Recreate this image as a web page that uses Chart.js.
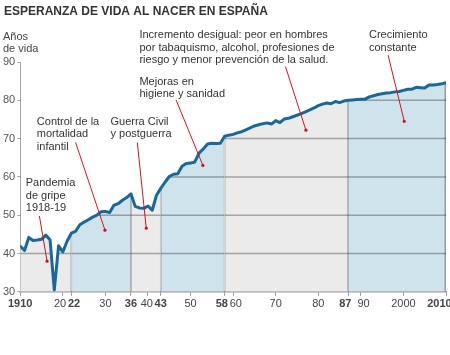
<!DOCTYPE html>
<html><head><meta charset="utf-8">
<script src="https://cdn.jsdelivr.net/npm/chart.js@4.4.0/dist/chart.umd.min.js"></script>
<style>html,body{margin:0;padding:0;background:#fff;}</style>
</head><body>
<canvas id="c" width="450" height="355"></canvas>
<script>
const years = [1910,1911,1912,1913,1914,1915,1916,1917,1918,1919,
1920,1921,1922,1923,1924,1925,1926,1927,1928,1929,
1930,1931,1932,1933,1934,1935,1936,1937,1938,1939,
1940,1941,1942,1943,1944,1945,1946,1947,1948,1949,
1950,1951,1952,1953,1954,1955,1956,1957,1958,1959,
1960,1961,1962,1963,1964,1965,1966,1967,1968,1969,
1970,1971,1972,1973,1974,1975,1976,1977,1978,1979,
1980,1981,1982,1983,1984,1985,1986,1987,1988,1989,
1990,1991,1992,1993,1994,1995,1996,1997,1998,1999,
2000,2001,2002,2003,2004,2005,2006,2007,2008,2009,2010];
const lifeExpectancy = [41.9,40.8,44.2,43.4,43.5,43.7,44.8,43.6,30.5,42.0,
40.4,43.2,45.3,45.8,47.5,48.2,48.8,49.5,50.0,50.9,
51.0,50.7,52.6,53.0,53.9,54.6,55.6,52.3,51.9,51.8,
52.4,51.3,55.2,57.0,58.6,60.1,60.7,60.8,62.8,63.5,
63.6,63.9,66.2,67.3,68.6,68.8,68.7,68.8,70.6,70.9,
71.1,71.5,71.8,72.3,72.8,73.3,73.6,73.9,74.1,73.8,
74.7,74.2,75.1,75.3,75.7,76.1,76.5,77.0,77.5,78.0,
78.6,79.0,79.3,79.1,79.7,79.4,79.8,80.0,80.1,80.2,
80.3,80.3,80.9,81.2,81.5,81.7,81.9,82.0,82.2,82.3,
82.6,82.9,82.9,83.4,83.3,83.2,84.0,84.0,84.1,84.3,84.6];
const eraStarts = [1910,1922,1936,1943,1958,1987];
const eraKinds = ['gray','blue','gray','blue','gray','blue'];
const boundaryYears = [1922,1936,1943,1958,1987,2010];
const gridValues = [40,50,60,70,80];
const xTicks = [1910,1920,1922,1930,1936,1940,1943,1950,1958,1960,1970,1980,1987,1990,2000,2010];
const xTickLabels = ['1910','20\u2002','\u200222','30','36','40\u2009','43','50','58\u2002','\u200260','70','80','87\u2002','\u200290','2000','2010\u2003\u2009'];
const boldTicks = [1910,1922,1936,1943,1958,1987,2010];
const titleText = 'ESPERANZA DE VIDA AL NACER EN ESPAÑA';
const yAxisTitle = ['Años','de vida'];
const notes = [
  {lines:['Pandemia','de gripe','1918-19'], tx:1911.3, ty:58.3, from:[1914.5,49.8], to:[1916.3,38.0]},
  {lines:['Control de la','mortalidad','infantil'], tx:1913.9, ty:74.4, from:[1923.0,69.0], to:[1929.9,46.1]},
  {lines:['Guerra Civil','y postguerra'], tx:1931.2, ty:74.4, from:[1937.5,69.0], to:[1939.6,46.6]},
  {lines:['Mejoras en','higiene y sanidad'], tx:1938.0, ty:84.8, from:[1946.6,80.1], to:[1952.9,63.0]},
  {lines:['Incremento desigual: peor en hombres','por tabaquismo, alcohol, profesiones de','riesgo y menor prevención de la salud.'], tx:1938.0, ty:97.0, from:[1972.3,88.8], to:[1977.1,72.2]},
  {lines:['Crecimiento','constante'], tx:1991.9, ty:97.0, from:[1996.4,91.8], to:[2000.2,74.5]}
];

const FAMILY = '"Liberation Sans", Arial, Helvetica, sans-serif';
const COLORS = {gray:'#ebebeb', blue:'#cfe3ed'};
function eraColor(yr){
  let k = 0;
  for (let i = 0; i < eraStarts.length; i++) if (yr >= eraStarts[i]) k = i;
  return COLORS[eraKinds[k]];
}
const points = years.map((y,i)=>({x:y, y:lifeExpectancy[i]}));

const decor = {
  id:'decor',
  afterDatasetDraw(chart, args){
    if (args.index !== 0) return;
    const {ctx, chartArea:a, scales:{x,y}} = chart;
    ctx.save();
    ctx.beginPath(); ctx.rect(a.left, a.top, a.right-a.left, a.bottom-a.top); ctx.clip();
    ctx.globalCompositeOperation = 'source-atop';
    ctx.strokeStyle = 'rgba(0,0,0,0.30)';
    ctx.lineWidth = 1.5;
    gridValues.forEach(v=>{
      const py = y.getPixelForValue(v);
      ctx.beginPath(); ctx.moveTo(a.left, py); ctx.lineTo(a.right, py); ctx.stroke();
    });
    boundaryYears.forEach(v=>{
      let px = x.getPixelForValue(v);
      if (px > a.right - 1) px = a.right - 0.75;
      ctx.beginPath(); ctx.moveTo(px, a.bottom); ctx.lineTo(px, a.top); ctx.stroke();
    });
    ctx.restore();
  },
  afterDraw(chart){
    const {ctx, scales:{x,y}} = chart;
    ctx.save();
    ctx.fillStyle = '#333';
    ctx.textBaseline = 'middle';
    ctx.textAlign = 'left';
    ctx.font = 'bold 12px ' + FAMILY;
    ctx.fillText(titleText, 4, 12);
    ctx.font = '11px ' + FAMILY;
    ctx.fillStyle = '#444';
    yAxisTitle.forEach((t,i)=>ctx.fillText(t, 3, 37 + i*11.5));
    ctx.fillStyle = '#333';
    notes.forEach(n=>{
      const px = x.getPixelForValue(n.tx), py = y.getPixelForValue(n.ty);
      n.lines.forEach((t,i)=>ctx.fillText(t, px, py + i*12.4));
      const x1 = x.getPixelForValue(n.from[0]), y1 = y.getPixelForValue(n.from[1]);
      const x2 = x.getPixelForValue(n.to[0]), y2 = y.getPixelForValue(n.to[1]);
      ctx.strokeStyle = '#d0141e'; ctx.lineWidth = 1;
      ctx.beginPath(); ctx.moveTo(x1,y1); ctx.lineTo(x2,y2); ctx.stroke();
      ctx.fillStyle = '#d0141e';
      ctx.beginPath(); ctx.arc(x2,y2,1.6,0,Math.PI*2); ctx.fill();
      ctx.fillStyle = '#333';
    });
    ctx.restore();
  }
};

new Chart(document.getElementById('c'), {
  type:'line',
  data:{datasets:[
    {data:points, fill:'start', backgroundColor:'#ebebeb', borderColor:'rgba(0,0,0,0)', borderWidth:0,
     pointRadius:0, tension:0, order:1,
     segment:{backgroundColor: c => eraColor(years[c.p0DataIndex])}},
    {data:points, fill:false, borderColor:'#17699b', borderWidth:3, pointRadius:0, tension:0, order:0,
     borderJoinStyle:'round', borderCapStyle:'round'}
  ]},
  options:{
    responsive:false, animation:false, devicePixelRatio:1,
    layout:{padding:{top:62, left:1, right:4, bottom:42}},
    plugins:{legend:{display:false}, tooltip:{enabled:false}},
    scales:{
      x:{type:'linear', min:1910, max:2010,
        afterBuildTicks: s => { s.ticks = xTicks.map(v=>({value:v})); },
        afterFit: s => { s.paddingRight = 0; s.paddingLeft = 0; },
        ticks:{autoSkip:false, maxRotation:0, padding:2, color:'#444',
          callback: v => xTickLabels[xTicks.indexOf(v)],
          font: c => ({family:FAMILY, size:11, weight: (c.tick && boldTicks.includes(c.tick.value)) ? 'bold' : 'normal'})},
        grid:{display:true, drawOnChartArea:false, drawTicks:true, tickLength:4, color:'#999'},
        border:{display:true, color:'#999', width:1.5}
      },
      y:{min:30, max:90,
        ticks:{stepSize:10, padding:2, color:'#555', font:{family:FAMILY, size:11}},
        grid:{display:true, drawOnChartArea:false, drawTicks:true, tickLength:3, color:'#aaa'},
        border:{display:true, color:'#aaa', width:1}
      }
    }
  },
  plugins:[decor]
});
</script>
</body></html>
